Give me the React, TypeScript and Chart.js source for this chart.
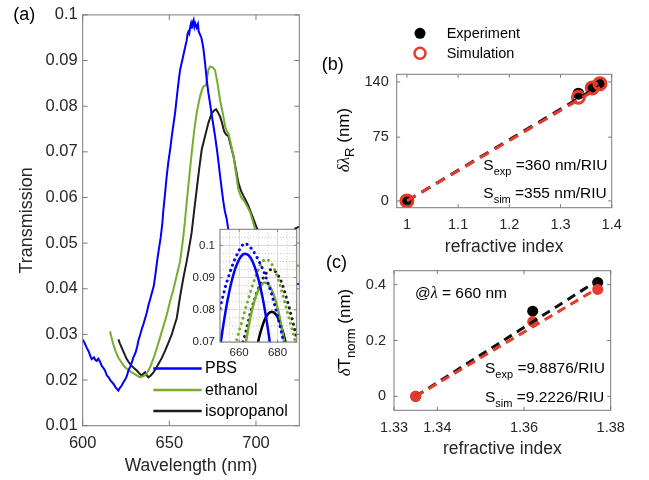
import React, { useEffect, useRef } from 'react';
import { Chart, registerables } from 'chart.js';

Chart.register(...registerables);

const PAGE_W = 649;
const PAGE_H = 480;
const FONT = "'Liberation Sans', Arial, Helvetica, sans-serif";
const SERIF = "'Liberation Serif', 'DejaVu Serif', serif";
const TICK_COLOR = '#262626';
const FRAME_COLOR = '#7a7a7a';
const BLUE = '#0000ff';
const GREEN = '#77ac30';
const DARK = '#1e1e1e';
const RED = '#e63b2c';

// ---------- Panel (a): transmission spectra [wavelength nm, transmission] ----------
const pbsSpectrum: [number, number][] = [
  [600, 0.0289], [601, 0.0282], [602.3, 0.0271], [603.5, 0.0262], [604.5, 0.0252], [605.2, 0.0246],
  [606.5, 0.025], [607.3, 0.0244], [608.1, 0.0242], [609, 0.0247], [610, 0.024], [611, 0.0231],
  [612, 0.0226], [613, 0.022], [613.9, 0.021], [615, 0.0206], [616, 0.0199], [617.7, 0.0192],
  [619, 0.0184], [620.6, 0.0177], [621.5, 0.0183], [622.5, 0.0188], [623.5, 0.0195], [624.5, 0.0201],
  [625.5, 0.0209], [626.3, 0.022], [627.5, 0.023], [628.3, 0.0238], [629.2, 0.0249], [630.5, 0.026],
  [631.5, 0.0274], [632.1, 0.0286], [633, 0.0297], [634.1, 0.0312], [635, 0.0322], [636, 0.0335],
  [637, 0.0348], [638, 0.0365], [639, 0.0378], [640, 0.0392], [641, 0.0406], [642, 0.0432],
  [643, 0.0462], [644, 0.0488], [645, 0.0512], [646, 0.0545], [646.5, 0.057], [647.5, 0.0608],
  [648.5, 0.0647], [649.5, 0.068], [650.5, 0.0706], [651.4, 0.0734], [652.3, 0.0758], [653.3, 0.0785],
  [654.2, 0.0816], [655, 0.0843], [655.6, 0.0862], [656.2, 0.0879], [657, 0.0893], [658, 0.091],
  [659.1, 0.0929], [660, 0.0944], [660.5, 0.0958], [661, 0.0963], [661.5, 0.0959], [662, 0.0973],
  [662.5, 0.0981], [663, 0.097], [663.5, 0.0984], [664, 0.0989], [664.5, 0.0974], [665, 0.0981],
  [665.8, 0.0972], [666.5, 0.098], [667, 0.0963], [667.7, 0.0957], [668.5, 0.095], [669, 0.094],
  [669.6, 0.0928], [670.3, 0.0905], [671, 0.088], [671.6, 0.0857], [672.5, 0.083], [673.5, 0.0806],
  [674.5, 0.078], [675.5, 0.0756], [676.4, 0.0734], [677.5, 0.0704], [678.5, 0.0673], [679.3, 0.0647],
  [680.3, 0.0616], [681.2, 0.059], [682, 0.0571], [683.1, 0.0553], [684, 0.053], [685, 0.0505],
  [687, 0.0478], [690, 0.0458], [695, 0.0442], [700, 0.0432], [705, 0.0426], [710, 0.0421],
  [715, 0.0418], [720, 0.0413], [725, 0.041],
];

const ethanolSpectrum: [number, number][] = [
  [615.8, 0.0307], [616.5, 0.0295], [617.7, 0.0278], [619, 0.0263], [620.6, 0.0249], [622.5, 0.0238],
  [624.4, 0.0228], [626.5, 0.0222], [628.3, 0.0217], [630.5, 0.0212], [633.1, 0.0206], [634.5, 0.0208],
  [636, 0.021], [637.5, 0.0218], [638.9, 0.0228], [640.3, 0.0242], [641.7, 0.0257], [643.2, 0.0275],
  [644.6, 0.0293], [646, 0.0311], [647.5, 0.0329], [649, 0.035], [650.4, 0.0372], [652.3, 0.0398],
  [654, 0.0425], [656.2, 0.046], [657.7, 0.0503], [658.8, 0.054], [660, 0.0589], [661.5, 0.0645],
  [662.9, 0.0698], [664.3, 0.0745], [665.8, 0.0785], [666.8, 0.0805], [667.7, 0.0821], [668.7, 0.0834],
  [669.6, 0.0843], [670.5, 0.0845], [671.2, 0.0846], [671.8, 0.0862], [672.5, 0.0879], [673.5, 0.0887],
  [675, 0.0885], [676.4, 0.0879], [677.8, 0.085], [679.3, 0.0813], [680.8, 0.0785], [682.2, 0.0756],
  [683.2, 0.0745], [684.1, 0.0741], [685.5, 0.0718], [687, 0.0691], [688.4, 0.0655], [689.8, 0.0618],
  [691.5, 0.06], [693.7, 0.0589], [695, 0.058], [696.6, 0.0568], [698, 0.055], [699.5, 0.0531],
  [702, 0.0505], [705, 0.049], [710, 0.0475], [715, 0.0465], [720, 0.0455], [725, 0.045],
];

const isopropanolSpectrum: [number, number][] = [
  [620.6, 0.0289], [621.5, 0.028], [622.5, 0.0271], [624, 0.0258], [625.4, 0.0246], [626.8, 0.0238],
  [628.3, 0.0231], [629.7, 0.0226], [631.2, 0.0221], [632.6, 0.0215], [634.1, 0.021], [635, 0.0214],
  [636, 0.0217], [637, 0.021], [637.9, 0.0206], [639.3, 0.021], [640.8, 0.0217], [642.2, 0.0225],
  [643.7, 0.0235], [645.6, 0.0248], [647.5, 0.0264], [649.5, 0.0282], [651.4, 0.03], [652.8, 0.0318],
  [654.3, 0.0336], [656.2, 0.0383], [658, 0.0422], [660, 0.046], [662, 0.0503], [662.9, 0.0524],
  [664.3, 0.057], [665.8, 0.0618], [667.2, 0.0662], [668.7, 0.0705], [670.6, 0.0734], [672.5, 0.0763],
  [674.5, 0.0785], [676, 0.0791], [677, 0.0793], [678, 0.0787], [679.3, 0.0777], [680.5, 0.0762],
  [681.6, 0.0745], [682.8, 0.0738], [684.1, 0.0734], [685.5, 0.0713], [687, 0.0691], [688.4, 0.0662],
  [689.8, 0.0633], [691.3, 0.0615], [692.7, 0.0604], [694.2, 0.0593], [695.6, 0.0582], [697, 0.0568],
  [698.5, 0.0553], [700, 0.0538], [701.4, 0.0524], [705, 0.0505], [710, 0.0495], [715, 0.0498],
  [720, 0.051], [722.6, 0.0532], [725, 0.0536],
];

const aXTicks = [600, 650, 700];
const aXLabels = ['600', '650', '700'];
const aYTicks = [0.01, 0.02, 0.03, 0.04, 0.05, 0.06, 0.07, 0.08, 0.09, 0.1];
const aYLabels = ['0.01', '0.02', '0.03', '0.04', '0.05', '0.06', '0.07', '0.08', '0.09', '0.1'];
const legendA = ['PBS', 'ethanol', 'isopropanol'];

// ---------- Inset: peak close-up (dotted = simulated, solid = measured fit) ----------
const pbsDotted: [number, number][] = [
  [650, 0.0805], [651, 0.083], [652, 0.0853], [653, 0.0875], [654, 0.0895], [655, 0.0913], [656, 0.093],
  [657, 0.0946], [658, 0.096], [659, 0.0973], [660, 0.0985], [661, 0.0995], [662, 0.1003], [663, 0.1007],
  [664, 0.1004], [665, 0.0999], [666, 0.0993], [667, 0.0985], [668, 0.0976], [669, 0.0966], [670, 0.0955],
  [671, 0.0943], [672, 0.093], [673, 0.0916], [674, 0.09], [675, 0.0884], [676, 0.0866], [677, 0.0847],
  [678, 0.0826], [679, 0.0804], [680, 0.0781], [681, 0.0757], [682, 0.0732], [683, 0.0705], [684, 0.0678],
];
const pbsSolid: [number, number][] = [
  [649, 0.0635], [650, 0.0681], [651, 0.0724], [652, 0.0763], [653, 0.0799], [654, 0.0832], [655, 0.0861],
  [656, 0.0887], [657, 0.0909], [658, 0.0929], [659, 0.0944], [660, 0.0957], [661, 0.0966], [662, 0.0972],
  [663, 0.0974], [664, 0.0973], [665, 0.0969], [666, 0.0961], [667, 0.095], [668, 0.0935], [669, 0.0917],
  [670, 0.0896], [671, 0.0872], [672, 0.0844], [673, 0.0813], [674, 0.0778], [675, 0.074], [676, 0.0699],
  [677, 0.0654],
];
const ethanolDotted: [number, number][] = [
  [658, 0.069], [659, 0.0713], [660, 0.0735], [661, 0.0755], [662, 0.0775], [663, 0.0797], [664, 0.0818],
  [665, 0.0838], [666, 0.0857], [667, 0.0876], [668, 0.0893], [669, 0.091], [670, 0.0925], [671, 0.0938],
  [672, 0.0948], [673, 0.0955], [674, 0.0957], [675, 0.0955], [676, 0.095], [677, 0.0942], [678, 0.0931],
  [679, 0.0917], [680, 0.0901], [681, 0.0883], [682, 0.0862], [683, 0.084], [684, 0.0818], [685, 0.0796],
  [686, 0.0775], [687, 0.0752], [688, 0.073], [689, 0.0707], [690, 0.0685],
];
const ethanolSolid: [number, number][] = [
  [662, 0.064], [663, 0.068], [664, 0.0717], [665, 0.075], [666, 0.078], [667, 0.0806], [668, 0.0828],
  [669, 0.0847], [670, 0.0861], [671, 0.0872], [672, 0.088], [673, 0.0884], [674, 0.0884], [675, 0.088],
  [676, 0.0872], [677, 0.0861], [678, 0.0847], [679, 0.0828], [680, 0.0806], [681, 0.078], [682, 0.075],
  [683, 0.0717], [684, 0.068], [685, 0.064],
];
const isopropanolDotted: [number, number][] = [
  [662, 0.07], [663, 0.0721], [664, 0.0745], [665, 0.077], [666, 0.0793], [667, 0.0813], [668, 0.0832],
  [669, 0.085], [670, 0.0866], [671, 0.088], [672, 0.0893], [673, 0.0904], [674, 0.0913], [675, 0.092],
  [676, 0.0924], [677, 0.0925], [678, 0.0923], [679, 0.0918], [680, 0.091], [681, 0.09], [682, 0.0887],
  [683, 0.087], [684, 0.085], [685, 0.083], [686, 0.081], [687, 0.0786], [688, 0.0762], [689, 0.0737],
  [690, 0.0712],
];
const isopropanolSolid: [number, number][] = [
  [668, 0.0646], [669, 0.0677], [670, 0.0704], [671, 0.0728], [672, 0.0748], [673, 0.0765], [674, 0.0778],
  [675, 0.0787], [676, 0.0792], [677, 0.0794], [678, 0.0792], [679, 0.0787], [680, 0.0778], [681, 0.0765],
  [682, 0.0748], [683, 0.0728], [684, 0.0704], [685, 0.0677], [686, 0.0646],
];
const insetXTicks = [660, 680];
const insetXLabels = ['660', '680'];
const insetYTicks = [0.07, 0.08, 0.09, 0.1];
const insetYLabels = ['0.07', '0.08', '0.09', '0.1'];
const insetMinorX = [650, 655, 665, 670, 675, 685, 690];
const insetMinorY = [0.0725, 0.075, 0.0775, 0.0825, 0.085, 0.0875, 0.0925, 0.095, 0.0975, 0.1025];

// ---------- Panel (b): resonance shift vs refractive index ----------
const riB = [1, 1.335, 1.362, 1.377];
const shiftExpB = [0, 126, 133, 138];
const shiftSimB = [0, 122, 133, 138];
const fitRiB = [1, 1.377];
const fitExpB = [0, 135.7];
const fitSimB = [0, 133.8];
const bXTicks = [1, 1.1, 1.2, 1.3, 1.4];
const bXLabels = ['1', '1.1', '1.2', '1.3', '1.4'];
const bYTicks = [0, 75, 140];
const bYLabels = ['0', '75', '140'];

// ---------- Panel (c): normalized transmission change vs refractive index ----------
const riC = [1.335, 1.362, 1.377];
const dTExpC = [0, 0.305, 0.408];
const dTSimC = [0, 0.268, 0.383];
const fitRiC = [1.335, 1.377];
const fitExpC = [0, 0.415];
const fitSimC = [0, 0.387];
const cXTicks = [1.33, 1.34, 1.36, 1.38];
const cXLabels = ['1.33', '1.34', '1.36', '1.38'];
const cYTicks = [0, 0.2, 0.4];
const cYLabels = ['0', '0.2', '0.4'];

// ---------- helpers ----------
const pairsToXY = (p: [number, number][]) => p.map(([x, y]) => ({ x, y }));
const zipXY = (xs: number[], ys: number[]) => xs.map((x, i) => ({ x, y: ys[i] }));

type AxisOpt = {
  min: number; max: number; ticks: number[]; labels: string[];
  size: number; font: number; pad: number; horizontal: boolean;
  grid?: any; title?: any;
};

function linScale(o: AxisOpt) {
  return {
    type: 'linear',
    min: o.min,
    max: o.max,
    afterBuildTicks: (s: any) => { s.ticks = o.ticks.map((v) => ({ value: v })); },
    afterFit: (s: any) => { if (o.horizontal) s.height = o.size; else s.width = o.size; },
    ticks: {
      autoSkip: false, maxRotation: 0, minRotation: 0, padding: o.pad, color: TICK_COLOR,
      font: { family: FONT, size: o.font },
      callback: (v: number) => {
        const i = o.ticks.findIndex((t) => Math.abs(t - v) < 1e-9);
        return i >= 0 ? o.labels[i] : '';
      },
    },
    grid: o.grid || { display: false, drawTicks: false },
    border: { display: false },
    title: o.title || { display: false },
  };
}

function framePlugin(id: string, len: number) {
  return {
    id,
    afterDatasetsDraw(chart: any) {
      const { ctx, chartArea: a, scales } = chart;
      const xs = scales.x, ys = scales.y;
      ctx.save();
      ctx.strokeStyle = FRAME_COLOR;
      ctx.lineWidth = 1;
      ctx.beginPath();
      for (const t of xs.ticks) {
        const px = xs.getPixelForValue(t.value);
        ctx.moveTo(px, a.bottom); ctx.lineTo(px, a.bottom - len);
        ctx.moveTo(px, a.top); ctx.lineTo(px, a.top + len);
      }
      for (const t of ys.ticks) {
        const py = ys.getPixelForValue(t.value);
        ctx.moveTo(a.left, py); ctx.lineTo(a.left + len, py);
        ctx.moveTo(a.right, py); ctx.lineTo(a.right - len, py);
      }
      ctx.stroke();
      ctx.strokeRect(a.left, a.top, a.right - a.left, a.bottom - a.top);
      ctx.restore();
    },
  };
}

type Seg = { t: string; size: number; italic?: boolean; family?: string; dy?: number };
const segFont = (s: Seg) => `${s.italic ? 'italic ' : ''}${s.size}px ${s.family || FONT}`;

function drawRich(ctx: CanvasRenderingContext2D, x: number, y: number, segs: Seg[], align: 'left' | 'center' = 'left') {
  ctx.save();
  ctx.textBaseline = 'alphabetic';
  ctx.textAlign = 'left';
  ctx.fillStyle = '#000';
  const widths = segs.map((s) => { ctx.font = segFont(s); return ctx.measureText(s.t).width; });
  const total = widths.reduce((a, b) => a + b, 0);
  let cx = align === 'center' ? x - total / 2 : x;
  segs.forEach((s, i) => {
    ctx.font = segFont(s);
    ctx.fillText(s.t, cx, y + (s.dy || 0));
    cx += widths[i];
  });
  ctx.restore();
}

function drawRotated(ctx: CanvasRenderingContext2D, x: number, y: number, segs: Seg[]) {
  ctx.save();
  ctx.translate(x, y);
  ctx.rotate(-Math.PI / 2);
  drawRich(ctx, 0, 0, segs, 'center');
  ctx.restore();
}

function baseOptions(padding: any, scales: any) {
  return {
    responsive: false,
    animation: false,
    devicePixelRatio: 1,
    events: [],
    layout: { padding },
    scales,
    plugins: { legend: { display: false }, tooltip: { enabled: false } },
  };
}

// ---------- charts ----------
function buildA(canvas: HTMLCanvasElement) {
  const lineDs = (label: string, data: [number, number][], color: string) => ({
    label, data: pairsToXY(data), showLine: true, borderColor: color, borderWidth: 2,
    pointRadius: 0, tension: 0,
  });
  const textPlugin = {
    id: 'aText',
    afterDraw(chart: any) {
      const ctx = chart.ctx as CanvasRenderingContext2D;
      drawRich(ctx, 13.3, 19.5, [{ t: '(a)', size: 18 }]);
      const colors = [BLUE, GREEN, DARK];
      const ys = [368.5, 390, 411];
      ctx.save();
      colors.forEach((c, i) => {
        ctx.strokeStyle = c; ctx.lineWidth = 2.5;
        ctx.beginPath(); ctx.moveTo(153.3, ys[i]); ctx.lineTo(201.7, ys[i]); ctx.stroke();
        ctx.fillStyle = '#000'; ctx.font = `16px ${FONT}`; ctx.textBaseline = 'middle'; ctx.textAlign = 'left';
        ctx.fillText(legendA[i], 205, ys[i] + 0.5);
      });
      ctx.restore();
    },
  };
  return new Chart(canvas, {
    type: 'scatter',
    data: {
      datasets: [
        lineDs(legendA[0], pbsSpectrum, BLUE),
        lineDs(legendA[1], ethanolSpectrum, GREEN),
        lineDs(legendA[2], isopropanolSpectrum, DARK),
      ],
    },
    options: baseOptions({ left: 0, top: 10.7, right: 349.7, bottom: 0 }, {
      x: linScale({
        min: 600, max: 725, ticks: aXTicks, labels: aXLabels, size: 54.3, font: 16.5, pad: 8, horizontal: true,
        title: { display: true, text: 'Wavelength (nm)', color: TICK_COLOR, font: { family: FONT, size: 17.5 }, padding: { top: 0, bottom: 3 } },
      }),
      y: linScale({
        min: 0.01, max: 0.1, ticks: aYTicks, labels: aYLabels, size: 82.7, font: 16.5, pad: 5, horizontal: false,
        title: { display: true, text: 'Transmission', color: TICK_COLOR, font: { family: FONT, size: 18 }, padding: { top: 16.7, bottom: 0 } },
      }),
    }) as any,
    plugins: [framePlugin('aFrame', 5), textPlugin],
  } as any);
}

function buildInset(canvas: HTMLCanvasElement) {
  const ds = (data: [number, number][], color: string, dotted: boolean) => ({
    data: pairsToXY(data), showLine: true, borderColor: color, pointRadius: 0, tension: 0,
    borderWidth: dotted ? 3 : 2.5,
    borderDash: dotted ? [0.1, 5.5] : [],
    borderCapStyle: dotted ? 'round' : 'butt',
  });
  const bgPlugin = {
    id: 'insetBg',
    beforeDraw(chart: any) {
      const { ctx, chartArea: a } = chart;
      ctx.save(); ctx.fillStyle = '#fff';
      ctx.fillRect(a.left, a.top, a.right - a.left, a.bottom - a.top);
      ctx.restore();
    },
    beforeDatasetsDraw(chart: any) {
      const { ctx, chartArea: a, scales } = chart;
      ctx.save();
      ctx.strokeStyle = '#c4c4c4'; ctx.lineWidth = 1; ctx.setLineDash([1, 2]);
      ctx.beginPath();
      insetMinorX.forEach((v) => { const px = scales.x.getPixelForValue(v); ctx.moveTo(px, a.top); ctx.lineTo(px, a.bottom); });
      insetMinorY.forEach((v) => { const py = scales.y.getPixelForValue(v); ctx.moveTo(a.left, py); ctx.lineTo(a.right, py); });
      ctx.stroke();
      ctx.restore();
    },
  };
  const grid = { display: true, drawTicks: false, color: '#dadada', lineWidth: 1 };
  return new Chart(canvas, {
    type: 'scatter',
    data: {
      datasets: [
        ds(pbsDotted, BLUE, true), ds(pbsSolid, BLUE, false),
        ds(ethanolDotted, GREEN, true), ds(ethanolSolid, GREEN, false),
        ds(isopropanolDotted, DARK, true), ds(isopropanolSolid, '#000', false),
      ],
    },
    options: baseOptions({ left: 180, top: 229.3, right: 352.3, bottom: 108 }, {
      x: linScale({ min: 650, max: 690, ticks: insetXTicks, labels: insetXLabels, size: 30, font: 11.5, pad: 4, horizontal: true, grid }),
      y: linScale({ min: 0.07, max: 0.105, ticks: insetYTicks, labels: insetYLabels, size: 40, font: 11.5, pad: 5, horizontal: false, grid }),
    }) as any,
    plugins: [bgPlugin, framePlugin('insetFrame', 2.5)],
  } as any);
}

function buildB(canvas: HTMLCanvasElement) {
  const textPlugin = {
    id: 'bText',
    afterDraw(chart: any) {
      const ctx = chart.ctx as CanvasRenderingContext2D;
      drawRich(ctx, 321.7, 69.5, [{ t: '(b)', size: 18 }]);
      // legend
      ctx.save();
      ctx.fillStyle = '#000';
      ctx.beginPath(); ctx.arc(420, 33.3, 5.5, 0, Math.PI * 2); ctx.fill();
      ctx.strokeStyle = RED; ctx.lineWidth = 2.5;
      ctx.beginPath(); ctx.arc(420, 53.3, 5.5, 0, Math.PI * 2); ctx.stroke();
      ctx.font = `14.5px ${FONT}`; ctx.textBaseline = 'middle'; ctx.textAlign = 'left';
      ctx.fillText('Experiment', 446.7, 33.8);
      ctx.fillText('Simulation', 446.7, 53.8);
      ctx.restore();
      drawRich(ctx, 483.3, 170, [{ t: 'S', size: 15.5 }, { t: 'exp', size: 11, dy: 5 }, { t: ' =360 nm/RIU', size: 15.5 }]);
      drawRich(ctx, 483.3, 198, [{ t: 'S', size: 15.5 }, { t: 'sim', size: 11, dy: 5 }, { t: ' =355 nm/RIU', size: 15.5 }]);
      drawRotated(ctx, 349, 140, [
        { t: 'δλ', size: 17, italic: true, family: SERIF },
        { t: 'R', size: 13, dy: 5 },
        { t: ' (nm)', size: 17 },
      ]);
    },
  };
  return new Chart(canvas, {
    type: 'scatter',
    data: {
      datasets: [
        { data: zipXY(fitRiB, fitExpB), showLine: true, borderColor: '#111', borderWidth: 3, borderDash: [10, 7], pointRadius: 0, order: 1 },
        { data: zipXY(fitRiB, fitSimB), showLine: true, borderColor: RED, borderWidth: 3, borderDash: [10, 7], pointRadius: 0, order: 0 },
        { data: zipXY(riB, shiftExpB), showLine: false, pointRadius: 6, pointBackgroundColor: '#000', pointBorderWidth: 0, order: 3 },
        { data: zipXY(riB, shiftSimB), showLine: false, pointRadius: 6, pointBackgroundColor: 'rgba(0,0,0,0)', pointBorderColor: RED, pointBorderWidth: 3, order: 2 },
      ],
    },
    options: baseOptions({ left: 336.7, top: 74.3, right: 37.3, bottom: 222.3 }, {
      x: linScale({
        min: 0.98, max: 1.4, ticks: bXTicks, labels: bXLabels, size: 50, font: 14.5, pad: 9, horizontal: true,
        title: { display: true, text: 'refractive index', color: TICK_COLOR, font: { family: FONT, size: 17.5 }, padding: { top: 0, bottom: 0.2 } },
      }),
      y: linScale({ min: -8, max: 149, ticks: bYTicks, labels: bYLabels, size: 60, font: 14.5, pad: 8, horizontal: false }),
    }) as any,
    plugins: [framePlugin('bFrame', 3.5), textPlugin],
  } as any);
}

function buildC(canvas: HTMLCanvasElement) {
  const textPlugin = {
    id: 'cText',
    afterDraw(chart: any) {
      const ctx = chart.ctx as CanvasRenderingContext2D;
      drawRich(ctx, 326, 268, [{ t: '(c)', size: 18 }]);
      drawRich(ctx, 415, 298, [
        { t: '@', size: 15.5 },
        { t: 'λ', size: 16, italic: true, family: SERIF },
        { t: ' = 660 nm', size: 15.5 },
      ]);
      drawRich(ctx, 485, 373.3, [{ t: 'S', size: 15.5 }, { t: 'exp', size: 11, dy: 5 }, { t: ' =9.8876/RIU', size: 15.5 }]);
      drawRich(ctx, 485, 401.7, [{ t: 'S', size: 15.5 }, { t: 'sim', size: 11, dy: 5 }, { t: ' =9.2226/RIU', size: 15.5 }]);
      drawRotated(ctx, 350, 332.5, [
        { t: 'δ', size: 17, italic: true, family: SERIF },
        { t: 'T', size: 17 },
        { t: 'norm', size: 13, dy: 5 },
        { t: ' (nm)', size: 17 },
      ]);
    },
  };
  return new Chart(canvas, {
    type: 'scatter',
    data: {
      datasets: [
        { data: zipXY(fitRiC, fitExpC), showLine: true, borderColor: '#111', borderWidth: 3, borderDash: [9, 6], pointRadius: 0, order: 1 },
        { data: zipXY(fitRiC, fitSimC), showLine: true, borderColor: RED, borderWidth: 3, borderDash: [9, 6], pointRadius: 0, order: 0 },
        { data: zipXY(riC, dTExpC), showLine: false, pointRadius: 5.5, pointBackgroundColor: '#000', pointBorderWidth: 0, order: 3 },
        { data: zipXY(riC, dTSimC), showLine: false, pointRadius: 5.5, pointBackgroundColor: RED, pointBorderWidth: 0, order: 2 },
      ],
    },
    options: baseOptions({ left: 334, top: 270.7, right: 38.3, bottom: 19.7 }, {
      x: linScale({
        min: 1.33, max: 1.38, ticks: cXTicks, labels: cXLabels, size: 50, font: 14.5, pad: 9, horizontal: true,
        title: { display: true, text: 'refractive index', color: TICK_COLOR, font: { family: FONT, size: 17.5 }, padding: { top: 0, bottom: 0.3 } },
      }),
      y: linScale({ min: -0.05, max: 0.45, ticks: cYTicks, labels: cYLabels, size: 60, font: 14.5, pad: 8, horizontal: false }),
    }) as any,
    plugins: [framePlugin('cFrame', 3.5), textPlugin],
  } as any);
}

export default function App() {
  const aRef = useRef<HTMLCanvasElement>(null);
  const insetRef = useRef<HTMLCanvasElement>(null);
  const bRef = useRef<HTMLCanvasElement>(null);
  const cRef = useRef<HTMLCanvasElement>(null);

  useEffect(() => {
    const charts = [
      buildA(aRef.current!),
      buildInset(insetRef.current!),
      buildB(bRef.current!),
      buildC(cRef.current!),
    ];
    return () => charts.forEach((c) => c.destroy());
  }, []);

  const cs: React.CSSProperties = { position: 'absolute', left: 0, top: 0 };
  return (
    <div style={{ position: 'fixed', left: 0, top: 0, width: PAGE_W, height: PAGE_H, background: '#fff', overflow: 'hidden' }}>
      <canvas ref={aRef} width={PAGE_W} height={PAGE_H} style={cs} />
      <canvas ref={insetRef} width={PAGE_W} height={PAGE_H} style={cs} />
      <canvas ref={bRef} width={PAGE_W} height={PAGE_H} style={cs} />
      <canvas ref={cRef} width={PAGE_W} height={PAGE_H} style={cs} />
    </div>
  );
}
